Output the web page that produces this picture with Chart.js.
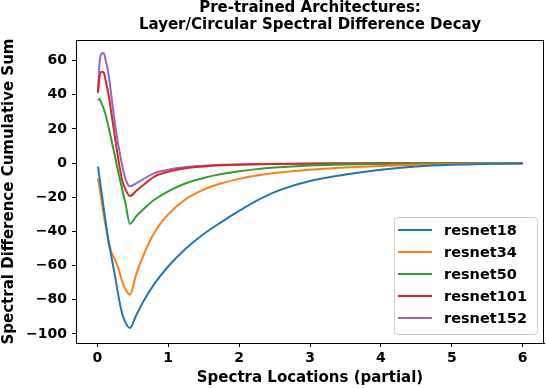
<!DOCTYPE html>
<html>
<head>
<meta charset="utf-8">
<script src="https://cdn.jsdelivr.net/npm/chart.js@4/dist/chart.umd.min.js"></script>
<style>
  html, body { margin: 0; padding: 0; background: #fff; }
</style>
</head>
<body>
<canvas id="decayChart" width="546" height="388"></canvas>
<script>
// posiciones espectrales (eje x) compartidas por todas las series
const xs = [0.01, 0.03, 0.06, 0.09, 0.12, 0.16, 0.2, 0.25, 0.3, 0.35, 0.4, 0.46, 0.55, 0.65, 0.8, 1.0, 1.25, 1.5, 1.75, 2.0, 2.25, 2.5, 3.0, 3.5, 4.0, 4.5, 5.0, 5.5, 6.0];

// suma acumulada de la diferencia espectral por arquitectura
const resnet18 = [-2, -8, -17, -26, -35, -46, -55, -66, -78, -88, -93.5, -96.5, -89, -81, -71, -60.5, -50, -41.5, -34.5, -28, -22, -17, -10.5, -6.7, -3.8, -1.9, -0.9, -0.4, -0.1];
const resnet34 = [-9, -14, -22, -30, -37, -46, -52, -56.5, -62, -69, -74, -77, -65, -54, -41, -30, -21, -15.5, -11.8, -9.2, -7.2, -5.8, -3.8, -2.5, -1.6, -0.9, -0.5, -0.25, -0.1];
const resnet50 = [37, 37.5, 35, 32, 28, 21, 13.5, 4, -6, -15, -24, -35.5, -31, -27, -21.6, -16.5, -11.8, -8.7, -6.4, -4.8, -3.5, -2.6, -1.4, -0.8, -0.5, -0.3, -0.2, -0.1, 0];
const resnet101 = [41.5, 50, 53.5, 53, 48, 40, 29, 15, 1.5, -10, -15.5, -19.3, -16.2, -12.8, -8, -5, -3, -2, -1.3, -0.9, -0.7, -0.5, -0.3, -0.2, -0.1, -0.1, 0, 0, 0];
const resnet152 = [41, 58, 64, 64.5, 60, 52, 39, 23, 10, -1, -9.5, -13.6, -11.8, -9.3, -6, -3.8, -2.3, -1.5, -1, -0.7, -0.5, -0.4, -0.2, -0.1, -0.1, 0, 0, 0, 0];

const xTicks = [0, 1, 2, 3, 4, 5, 6];
const yTicks = [-100, -80, -60, -40, -20, 0, 20, 40, 60];

const FONT = "'DejaVu Sans', sans-serif";

function serie(label, values, color) {
  return {
    label: label,
    data: xs.map((x, i) => ({ x: x, y: values[i] })),
    borderColor: color,
    backgroundColor: color,
    borderWidth: 2,
    pointRadius: 0,
    cubicInterpolationMode: "monotone",
    fill: false,
  };
}

// marco completo, título y leyenda dentro del área (estilo matplotlib)
const extras = {
  id: "extras",
  afterDraw(chart) {
    const ctx = chart.ctx;
    const a = chart.chartArea;
    ctx.save();
    ctx.strokeStyle = "#000";
    ctx.lineWidth = 1;
    ctx.strokeRect(a.left + 0.5, a.top + 0.5, a.right - a.left - 1, a.bottom - a.top);

    // título en dos líneas centrado sobre los ejes
    ctx.fillStyle = "#000";
    ctx.font = "bold 15px " + FONT;
    ctx.textAlign = "center";
    ctx.textBaseline = "alphabetic";
    const cx = (a.left + a.right) / 2;
    ctx.fillText("Pre-trained Architectures:", cx, 12);
    ctx.fillText("Layer/Circular Spectral Difference Decay", cx, 29);

    // leyenda
    const w = 143, h = 117;
    const lx = a.right - 7 - w, ly = a.bottom - 9 - h;
    ctx.beginPath();
    ctx.roundRect(lx + 0.5, ly + 0.5, w, h, 3);
    ctx.fillStyle = "rgba(255,255,255,0.8)";
    ctx.fill();
    ctx.strokeStyle = "#cccccc";
    ctx.stroke();
    ctx.font = "bold 14.5px " + FONT;
    ctx.textAlign = "left";
    ctx.textBaseline = "middle";
    chart.data.datasets.forEach((ds, i) => {
      const y = ly + 13 + i * 22;
      ctx.strokeStyle = ds.borderColor;
      ctx.lineWidth = 2;
      ctx.beginPath();
      ctx.moveTo(lx + 4, y);
      ctx.lineTo(lx + 38, y);
      ctx.stroke();
      ctx.fillStyle = "#000";
      ctx.fillText(ds.label, lx + 50, y + 1);
    });
    ctx.restore();
  },
};

function fmt(v) {
  return v < 0 ? "\u2212" + Math.abs(v) : String(v);
}

const ctx = document.getElementById("decayChart").getContext("2d");

const chart = new Chart(ctx, {
  type: "line",
  data: {
    datasets: [
      serie("resnet18", resnet18, "#1f77b4"),
      serie("resnet34", resnet34, "#ff7f0e"),
      serie("resnet50", resnet50, "#2ca02c"),
      serie("resnet101", resnet101, "#d62728"),
      serie("resnet152", resnet152, "#9467bd"),
    ],
  },
  options: {
    responsive: false,
    animation: false,
    layout: { padding: { top: 40, right: 2, left: 0, bottom: 0 } },
    plugins: {
      legend: { display: false },
      title: { display: false },
      tooltip: { enabled: false },
    },
    scales: {
      x: {
        type: "linear",
        min: -0.3,
        max: 6.3,
        afterBuildTicks: (s) => { s.ticks = xTicks.map((v) => ({ value: v })); },
        afterFit: (s) => { s.height = 45; },
        grid: { drawOnChartArea: false, drawTicks: true, tickLength: 4, color: "#000" },
        border: { color: "#000", width: 1 },
        ticks: { color: "#000", font: { family: FONT, size: 14, weight: "bold" }, padding: 3, maxRotation: 0, callback: fmt },
        title: {
          display: true,
          text: "Spectra Locations (partial)",
          color: "#000",
          font: { family: FONT, size: 15, weight: "bold" },
          padding: { top: 0, bottom: 1 },
        },
      },
      y: {
        type: "linear",
        min: -105.3,
        max: 72.1,
        afterBuildTicks: (s) => { s.ticks = yTicks.map((v) => ({ value: v })); },
        afterFit: (s) => { s.width = 76; },
        grid: { drawOnChartArea: false, drawTicks: true, tickLength: 4, color: "#000" },
        border: { color: "#000", width: 1 },
        ticks: { color: "#000", font: { family: FONT, size: 14, weight: "bold" }, padding: 5, callback: fmt },
        title: {
          display: true,
          text: "Spectral Difference Cumulative Sum",
          color: "#000",
          font: { family: FONT, size: 15, weight: "bold" },
          padding: { top: 0, bottom: 0 },
        },
      },
    },
  },
  plugins: [extras],
});
</script>
</body>
</html>
